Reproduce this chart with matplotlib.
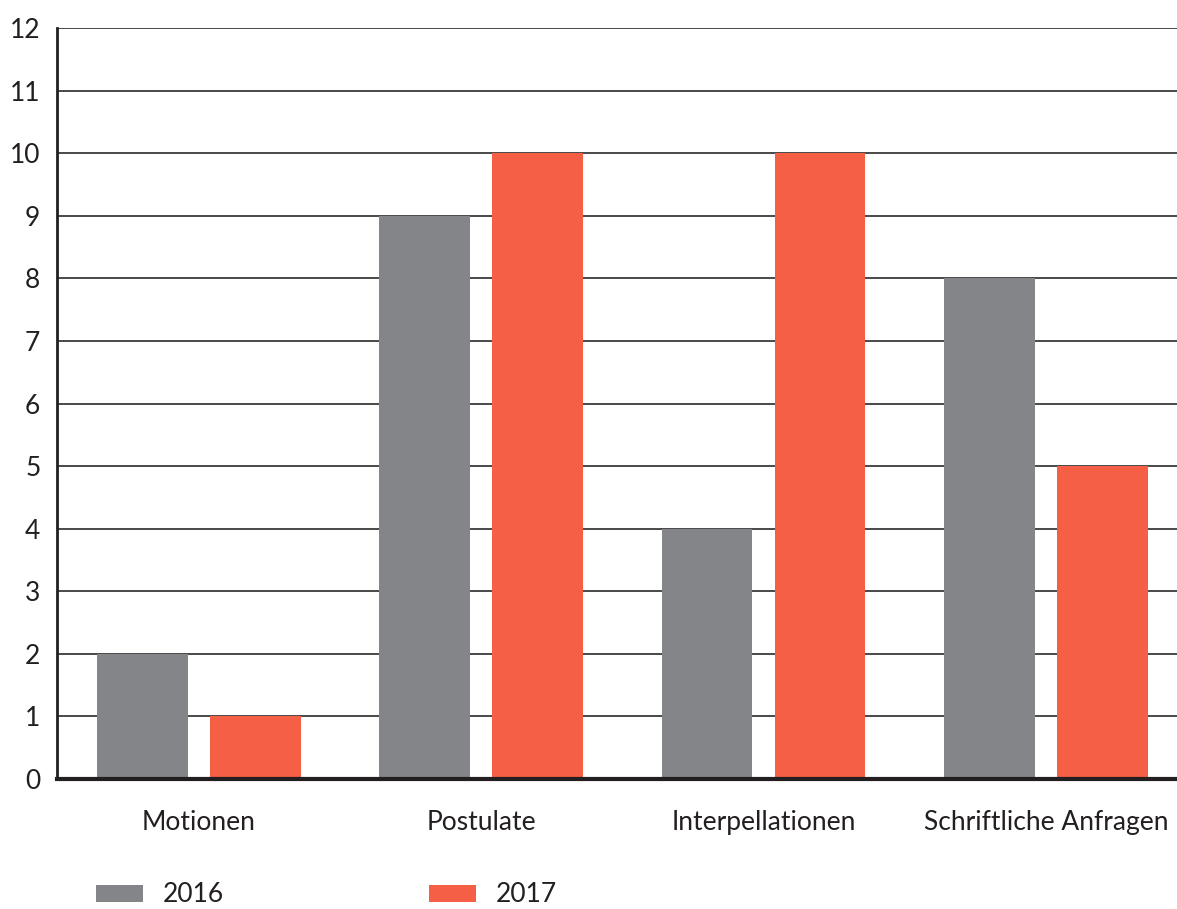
import matplotlib
matplotlib.use("Agg")
import matplotlib.pyplot as plt
import numpy as np
from matplotlib.patches import Patch

categories = ["Motionen", "Postulate", "Interpellationen", "Schriftliche Anfragen"]
series_names = ["2016", "2017"]
values_2016 = [2, 9, 4, 8]
values_2017 = [1, 10, 10, 5]
y_ticks = list(range(0, 13))

colors = ["#848589", "#F45F46"]

plt.rcParams["font.family"] = ["Lato", "DejaVu Sans"]

fig = plt.figure(figsize=(11.77, 9.09), dpi=100)
ax = fig.add_axes([57 / 1177, 1 - 779 / 909, 1 - 57 / 1177, (779 - 28) / 909])

x = np.arange(len(categories))
offset = 0.2
width = 0.322
ax.bar(x - offset, values_2016, width, color=colors[0], zorder=3)
ax.bar(x + offset, values_2017, width, color=colors[1], zorder=3)

ax.set_xlim(-0.503, 3.465)
ax.set_ylim(0, 12)
ax.set_yticks(y_ticks)
ax.set_yticklabels([str(t) for t in y_ticks])
ax.set_xticks(x)
ax.set_xticklabels(categories)

ax.grid(axis="y", color="#3a3a3a", linewidth=1.3, zorder=1)
ax.set_axisbelow(True)

for side in ["top", "right"]:
    ax.spines[side].set_visible(False)
ax.spines["left"].set_color("#231f20")
ax.spines["left"].set_linewidth(2.0)
ax.spines["bottom"].set_color("#231f20")
ax.spines["bottom"].set_linewidth(3.0)
ax.spines["bottom"].set_zorder(4)

ax.tick_params(axis="both", length=0, labelsize=19, colors="#231f20")
ax.tick_params(axis="y", pad=12)
ax.tick_params(axis="x", pad=22)

handles = [Patch(facecolor=c, edgecolor="none") for c in colors]
fig.legend(handles, series_names, loc="center left",
           bbox_to_anchor=(96 / 1177, 1 - 895 / 909), ncol=2, frameon=False,
           fontsize=19, handlelength=1.78, handleheight=0.64,
           borderpad=0, borderaxespad=0,
           columnspacing=7.75, handletextpad=0.76, labelcolor="#231f20")

fig.savefig("out.png", dpi=100)
